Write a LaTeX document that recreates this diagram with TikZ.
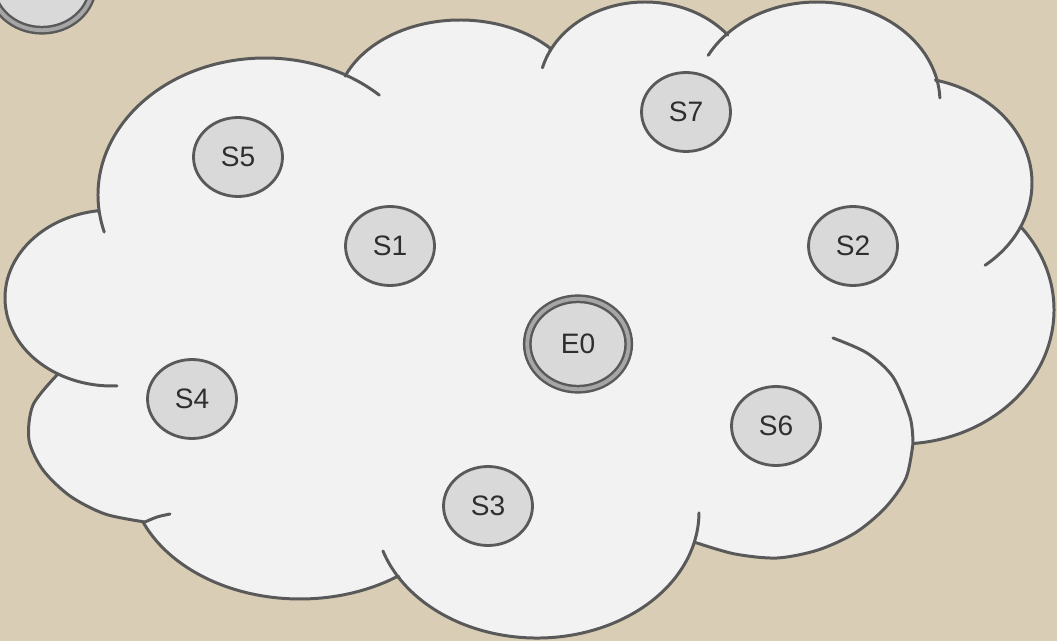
\documentclass[tikz,border=0pt]{standalone}
\usepackage{fontspec}
\setmainfont{Liberation Sans}
\usepackage{tikz}
\usetikzlibrary{positioning}
\usetikzlibrary{shapes.geometric}
\definecolor{linen}{HTML}{D9CEB5}
\definecolor{cloudfill}{HTML}{F2F2F2}
\definecolor{edgegray}{HTML}{595959}
\definecolor{statefill}{HTML}{D9D9D9}
\definecolor{ringfill}{HTML}{A6A6A6}
\definecolor{labelgray}{HTML}{2E2E2E}

\begin{document}
\begin{tikzpicture}[x=0.02cm, y=-0.02cm,
    cloudline/.style={draw=edgegray, line width=1.7pt, line join=round, line cap=round},
    state/.style={ellipse, draw=edgegray, line width=1.6pt, fill=statefill, minimum width=1.78cm, minimum height=1.58cm, inner sep=0pt, text=labelgray, font=\fontsize{16}{18}\selectfont},
    endstate/.style={state, line width=1.4pt, double=ringfill, double distance=2.2pt, minimum width=2.03cm, minimum height=1.81cm}]

    \useasboundingbox (0,0) rectangle (1057,641);
    \fill[linen] (0,0) rectangle (1057,641);
    \clip (0,0) rectangle (1057,641);

    % cloud outline, one elliptic lobe after another
    \filldraw[cloudline, fill=cloudfill]
        ([shift={(172.5:167 and 137)}]265,195) arc[start angle=172.5, end angle=299.3, x radius=167, y radius=137]
        -- ([shift={(202.2:124 and 90)}]460,110) arc[start angle=202.2, end angle=316.8, x radius=124, y radius=90]
        -- ([shift={(206.4:106 and 88)}]645,90) arc[start angle=206.4, end angle=321.4, x radius=106, y radius=88]
        -- ([shift={(222.8:123 and 100)}]817,102) arc[start angle=222.8, end angle=348.2, x radius=123, y radius=100]
        -- ([shift={(283.9:127 and 106)}]905,183) arc[start angle=283.9, end angle=385.1, x radius=127, y radius=106]
        -- ([shift={(321.8:154 and 134)}]900,310) arc[start angle=321.8, end angle=445.2, x radius=154, y radius=134]
        -- plot[smooth] coordinates {(913,443) (906,478) (885,508) (855,533) (818,550) (777,558) (735,554) (697,543)}
        -- ([shift={(14:162 and 126)}]537,512) arc[start angle=14, end angle=148.2, x radius=162, y radius=126]
        -- ([shift={(54.75:170 and 125)}]300,474) arc[start angle=54.75, end angle=157.2, x radius=170, y radius=125]
        -- plot[smooth] coordinates {(145,522) (105,514) (70,496) (43,470) (29,440) (33,405) (57,375)}
        -- ([shift={(120.4:107 and 88)}]112,298) arc[start angle=120.4, end angle=262.5, x radius=107, y radius=88]
        -- cycle;

    % lobe ends running into the cloud
    \draw[cloudline] ([shift={(164.3:167 and 137)}]265,195) arc[start angle=164.3, end angle=172.5, x radius=167, y radius=137];
    \draw[cloudline] ([shift={(299.3:167 and 137)}]265,195) arc[start angle=299.3, end angle=313.2, x radius=167, y radius=137];
    \draw[cloudline] ([shift={(194.6:106 and 88)}]645,90) arc[start angle=194.6, end angle=206.4, x radius=106, y radius=88];
    \draw[cloudline] ([shift={(207.8:123 and 100)}]817,102) arc[start angle=207.8, end angle=222.8, x radius=123, y radius=100];
    \draw[cloudline] ([shift={(348.2:123 and 100)}]817,102) arc[start angle=348.2, end angle=357.7, x radius=123, y radius=100];
    \draw[cloudline] ([shift={(385.1:127 and 106)}]905,183) arc[start angle=385.1, end angle=410.9, x radius=127, y radius=106];
    \draw[cloudline] plot[smooth] coordinates {(913,443) (910,417) (893,377) (867,353) (833,338)};
    \draw[cloudline] ([shift={(0.4:162 and 126)}]537,512) arc[start angle=0.4, end angle=14, x radius=162, y radius=126];
    \draw[cloudline] ([shift={(148.2:162 and 126)}]537,512) arc[start angle=148.2, end angle=162, x radius=162, y radius=126];
    \draw[cloudline] plot[smooth] coordinates {(145,522) (157,517) (170,514)};
    \draw[cloudline] ([shift={(87.3:107 and 88)}]112,298) arc[start angle=87.3, end angle=120.4, x radius=107, y radius=88];

    \node[endstate] (ex) at (42,-15) {};
    \node[endstate] (e0) at (578,344) {E0};

    \node[state] (s1) at (390,246) {S1};
    \node[state] (s2) at (853,246) {S2};
    \node[state] (s3) at (488,506) {S3};
    \node[state] (s4) at (192,399) {S4};
    \node[state] (s5) at (238,157) {S5};
    \node[state] (s6) at (776,426) {S6};
    \node[state] (s7) at (686,112) {S7};

\end{tikzpicture}
\end{document}
